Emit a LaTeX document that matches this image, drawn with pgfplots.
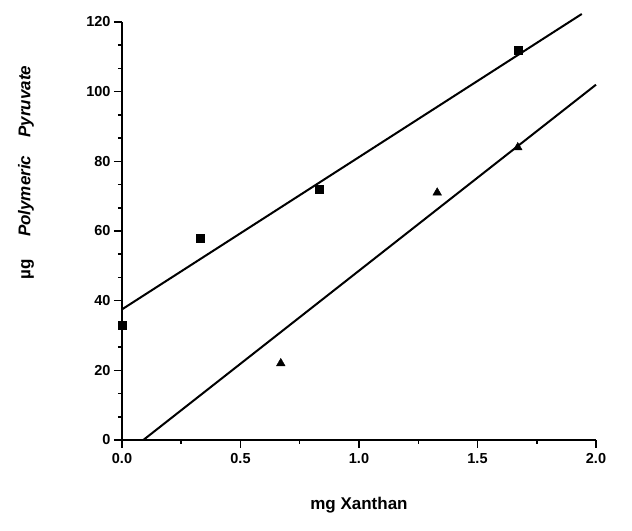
\documentclass[border=0pt]{standalone}
\usepackage{pgfplots}
\pgfplotsset{compat=1.18}
\usepackage{fontspec}
\setmainfont{Liberation Sans}
\begin{document}
\begin{tikzpicture}
\begin{axis}[
    name=ax,
    scale only axis,
    width=474pt, height=418pt,
    xmin=0, xmax=2, ymin=0, ymax=120,
    axis lines=left,
    axis line style={-, line width=1.8pt},
    xtick={0,0.5,1,1.5,2},
    ytick={0,20,40,60,80,100,120},
    minor x tick num=1,
    minor y tick num=2,
    tick align=outside,
    major tick length=8pt,
    minor tick length=4pt,
    every tick/.style={black, line width=1.5pt},
    /pgf/number format/assume math mode=true,
    tick label style={font=\fontsize{14.5}{16}\selectfont\bfseries},
    x tick label style={/pgf/number format/fixed, /pgf/number format/fixed zerofill, /pgf/number format/precision=1, yshift=-2pt},
    clip=false,
    xlabel={\fontsize{17}{20}\selectfont\bfseries mg Xanthan},
    every axis x label/.style={at={(axis description cs:0.5,0)}, anchor=center, yshift=-65pt},
    ylabel={\fontsize{17}{20}\selectfont\bfseries µg\hspace{22pt}\itshape Polymeric\hspace{18pt}Pyruvate},
    every axis y label/.style={at={(axis description cs:-0.2025,0.64)}, rotate=90, anchor=center},
]
\addplot[only marks, mark=square*, mark size=4pt, black] coordinates {
(0,33) (0.33,58) (0.83,72) (1.67,112)
};
\addplot[only marks, mark=triangle*, mark size=5pt, black] coordinates {
(0.67,22) (1.33,71) (1.67,84)
};
\addplot[black, line width=2pt] coordinates {(0,37.5) (1.94,122.3)};
\addplot[black, line width=2pt] coordinates {(0.09,0) (2.0,102)};
\end{axis}
\path ([shift={(-122pt,-91pt)}]ax.south west) rectangle ([shift={(36pt,22pt)}]ax.north east);
\end{tikzpicture}
\end{document}
